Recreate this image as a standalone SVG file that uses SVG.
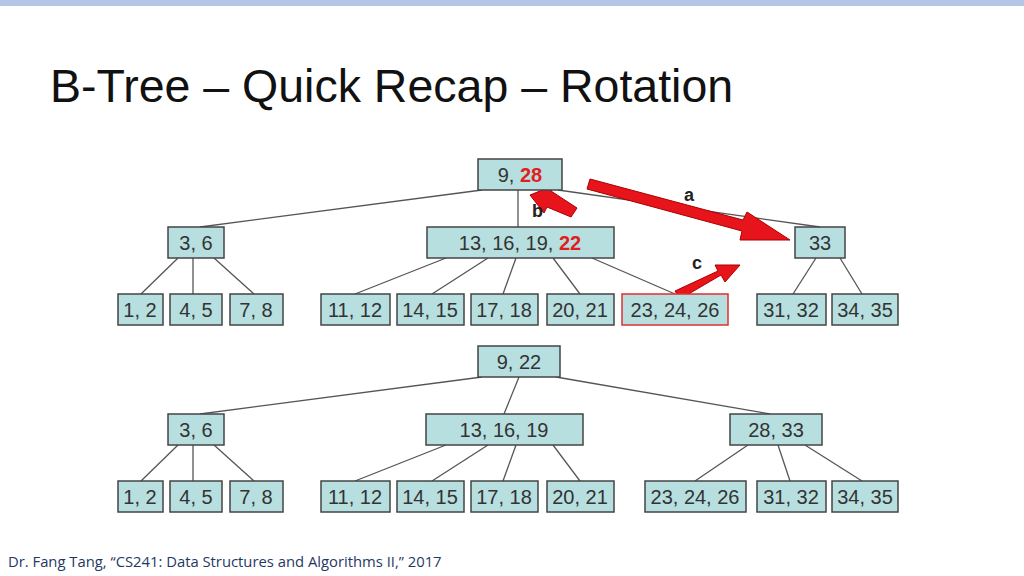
<svg xmlns="http://www.w3.org/2000/svg" width="1024" height="576" viewBox="0 0 1024 576">
<style>
.n rect{fill:#b7dfdf;stroke:#444;stroke-width:1.5}
.n text{font-family:"Liberation Sans",Arial,sans-serif;font-size:20px;fill:#333;text-anchor:middle}
.r{fill:#e02020;font-weight:bold}
#edges line{stroke:#555;stroke-width:1.3}
.arr{fill:#e8141b;stroke:#a00;stroke-width:1}
.lb{font-family:"Liberation Sans",Arial,sans-serif;font-size:18px;font-weight:bold;fill:#222}
</style>
<rect x="0" y="0" width="1024" height="6" fill="#b4c7e7"/>
<text x="50" y="102" font-family="Liberation Sans,Arial,sans-serif" font-size="46.5" fill="#111">B-Tree – Quick Recap – Rotation</text>
<g id="edges">
<line x1="482" y1="190" x2="200" y2="227"/><line x1="518" y1="190" x2="518" y2="227"/><line x1="558" y1="190" x2="820" y2="227"/>
<line x1="178" y1="258" x2="141" y2="294"/><line x1="193" y1="258" x2="193" y2="294"/><line x1="214" y1="258" x2="254" y2="294"/>
<line x1="446" y1="258" x2="355" y2="294"/><line x1="488" y1="258" x2="432" y2="294"/><line x1="516" y1="258" x2="503" y2="294"/><line x1="553" y1="258" x2="580" y2="294"/><line x1="592" y1="258" x2="675" y2="294"/>
<line x1="816" y1="258" x2="793" y2="294"/><line x1="840" y1="258" x2="862" y2="294"/>
<line x1="482" y1="377" x2="200" y2="414"/><line x1="519" y1="377" x2="504" y2="414"/><line x1="556" y1="377" x2="770" y2="414"/>
<line x1="178" y1="445" x2="141" y2="481"/><line x1="193" y1="445" x2="193" y2="481"/><line x1="214" y1="445" x2="254" y2="481"/>
<line x1="446" y1="445" x2="355" y2="481"/><line x1="488" y1="445" x2="432" y2="481"/><line x1="516" y1="445" x2="503" y2="481"/><line x1="553" y1="445" x2="580" y2="481"/>
<line x1="748" y1="445" x2="695" y2="481"/><line x1="778" y1="445" x2="790" y2="481"/><line x1="805" y1="445" x2="862" y2="481"/>
</g>
<g id="arrows">
<polygon class="arr" points="590,179 743,220 747,212 790,240 740,240 742,231 587,189"/>
<polygon class="arr" points="577,208 551,191 555,185 530,195 544,213 547,207 571,217"/>
<polygon class="arr" points="680,299 721,275 725,282 740,265 715,265 718,271 675,291"/>
<text class="lb" x="684" y="201">a</text>
<text class="lb" x="532" y="217">b</text>
<text class="lb" x="692" y="269">c</text>
</g>
<g id="t1root" class="n"><rect x="478" y="159" width="84" height="31"/><text x="520" y="182">9, <tspan class="r">28</tspan></text></g>
<g id="t1a" class="n"><rect x="168" y="227" width="56" height="31"/><text x="196" y="250">3, 6</text></g>
<g id="t1b" class="n"><rect x="427" y="227" width="187" height="31"/><text x="520" y="250">13, 16, 19, <tspan class="r">22</tspan></text></g>
<g id="t1c" class="n"><rect x="795" y="227" width="50" height="31"/><text x="820" y="250">33</text></g>
<g id="t1l1" class="n"><rect x="118" y="294" width="45" height="31"/><text x="140" y="317">1, 2</text></g>
<g id="t1l2" class="n"><rect x="170" y="294" width="52" height="31"/><text x="196" y="317">4, 5</text></g>
<g id="t1l3" class="n"><rect x="230" y="294" width="53" height="31"/><text x="256" y="317">7, 8</text></g>
<g id="t1l4" class="n"><rect x="321" y="294" width="69" height="31"/><text x="355" y="317">11, 12</text></g>
<g id="t1l5" class="n"><rect x="397" y="294" width="67" height="31"/><text x="430" y="317">14, 15</text></g>
<g id="t1l6" class="n"><rect x="471" y="294" width="67" height="31"/><text x="504" y="317">17, 18</text></g>
<g id="t1l7" class="n"><rect x="547" y="294" width="67" height="31"/><text x="580" y="317">20, 21</text></g>
<g id="t1l8" class="n"><rect x="622" y="294" width="106" height="31" style="stroke:#e03030"/><text x="675" y="317">23, 24, 26</text></g>
<g id="t1l9" class="n"><rect x="757" y="294" width="69" height="31"/><text x="791" y="317">31, 32</text></g>
<g id="t1l10" class="n"><rect x="832" y="294" width="66" height="31"/><text x="865" y="317">34, 35</text></g>
<g id="t2root" class="n"><rect x="478" y="346" width="82" height="31"/><text x="519" y="369">9, 22</text></g>
<g id="t2a" class="n"><rect x="168" y="414" width="56" height="31"/><text x="196" y="437">3, 6</text></g>
<g id="t2b" class="n"><rect x="426" y="414" width="157" height="31"/><text x="504" y="437">13, 16, 19</text></g>
<g id="t2c" class="n"><rect x="730" y="414" width="92" height="31"/><text x="776" y="437">28, 33</text></g>
<g id="t2l1" class="n"><rect x="118" y="481" width="45" height="31"/><text x="140" y="504">1, 2</text></g>
<g id="t2l2" class="n"><rect x="170" y="481" width="52" height="31"/><text x="196" y="504">4, 5</text></g>
<g id="t2l3" class="n"><rect x="230" y="481" width="53" height="31"/><text x="256" y="504">7, 8</text></g>
<g id="t2l4" class="n"><rect x="321" y="481" width="69" height="31"/><text x="355" y="504">11, 12</text></g>
<g id="t2l5" class="n"><rect x="397" y="481" width="67" height="31"/><text x="430" y="504">14, 15</text></g>
<g id="t2l6" class="n"><rect x="471" y="481" width="67" height="31"/><text x="504" y="504">17, 18</text></g>
<g id="t2l7" class="n"><rect x="547" y="481" width="67" height="31"/><text x="580" y="504">20, 21</text></g>
<g id="t2l8" class="n"><rect x="645" y="481" width="101" height="31"/><text x="695" y="504">23, 24, 26</text></g>
<g id="t2l9" class="n"><rect x="757" y="481" width="69" height="31"/><text x="791" y="504">31, 32</text></g>
<g id="t2l10" class="n"><rect x="832" y="481" width="66" height="31"/><text x="865" y="504">34, 35</text></g>
<text x="8" y="567" font-family="Open Sans,Liberation Sans,sans-serif" font-size="14.8" fill="#1f3864">Dr. Fang Tang, “CS241: Data Structures and Algorithms II,” 2017</text>
</svg>
